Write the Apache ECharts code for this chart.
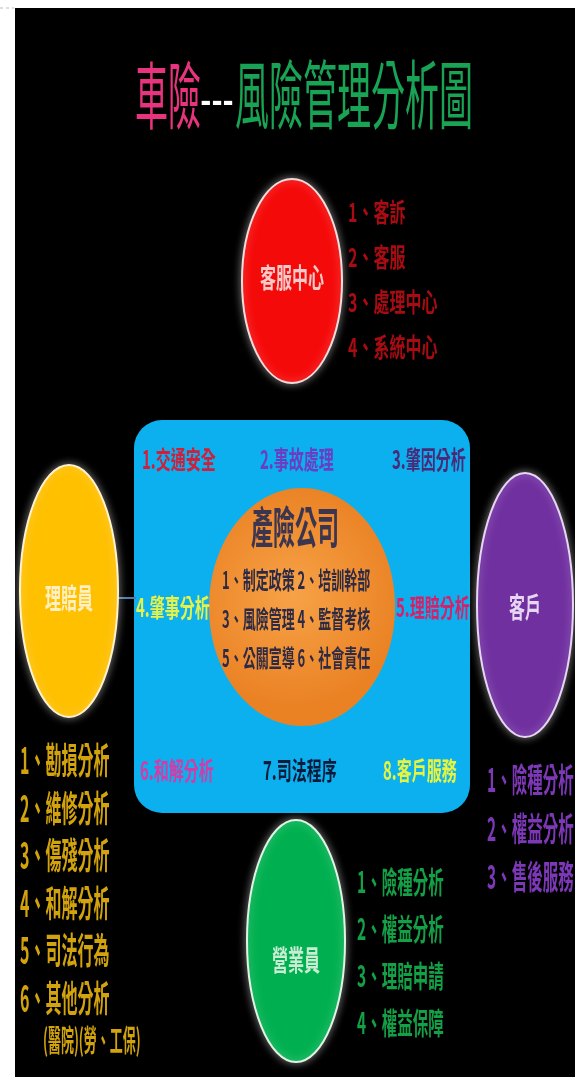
<!DOCTYPE html>
<html>
<head>
<meta charset="utf-8">
<script src="https://cdn.jsdelivr.net/npm/echarts@6/dist/echarts.min.js"></script>
<style>
html,body{margin:0;padding:0;background:#fff;}
#chart{width:575px;height:1077px;}
</style>
</head>
<body>
<div id="chart"></div>
<script>
// ---- content ----
const TITLE_A = '車險';
const TITLE_SEP = '---';
const TITLE_B = '風險管理分析圖';
const CENTER_TITLE = '產險公司';
const CENTER_ITEMS = ['1、制定政策 2、培訓幹部', '3、風險管理 4、監督考核', '5、公關宣導 6、社會責任'];
const RING_TOP = ['1.交通安全', '2.事故處理', '3.肇因分析'];
const RING_MID = ['4.肇事分析', '5.理賠分析'];
const RING_BOTTOM = ['6.和解分析', '7.司法程序', '8.客戶服務'];
const NODE_SERVICE = '客服中心';
const NODE_ADJUSTER = '理賠員';
const NODE_CUSTOMER = '客戶';
const NODE_SALES = '營業員';
const SERVICE_ITEMS = ['1、客訴', '2、客服', '3、處理中心', '4、系統中心'];
const ADJUSTER_ITEMS = ['1、勘損分析', '2、維修分析', '3、傷殘分析', '4、和解分析', '5、司法行為', '6、其他分析'];
const ADJUSTER_NOTE = '(醫院)(勞、工保)';
const CUSTOMER_ITEMS = ['1、險種分析', '2、權益分析', '3、售後服務'];
const SALES_ITEMS = ['1、險種分析', '2、權益分析', '3、理賠申請', '4、權益保障'];

// ---- helpers ----
const FONT = '"Noto Sans CJK TC", "Noto Sans CJK SC", sans-serif';
function T(x, y, text, size, color, sy, align, weight) {
  return {
    type: 'text', x: x, y: y, scaleY: sy, z: 20,
    style: {
      text: text,
      font: (weight || 'bold') + ' ' + size + 'px ' + FONT,
      fill: color,
      textAlign: align || 'left',
      textVerticalAlign: 'middle'
    }
  };
}
function E(cx, cy, rx, ry, fill, stroke) {
  return {
    type: 'ellipse', z: 5,
    shape: { cx: cx, cy: cy, rx: rx, ry: ry },
    style: {
      fill: fill, stroke: stroke || '#f3e6dc', lineWidth: 2,
      shadowBlur: 8, shadowColor: 'rgba(255,255,255,0.45)'
    }
  };
}
function list(items, x, y0, dy, size, color, sy) {
  return items.map((t, i) => T(x, y0 + i * dy, t, size, color, sy, 'left', 'bold'));
}

const els = [];
// background panel
els.push({ type: 'rect', z: 0, shape: { x: 15, y: 8, width: 560, height: 1069 }, style: { fill: '#000' } });
els.push({ type: 'line', z: 1, shape: { x1: 0, y1: 8, x2: 14, y2: 8 }, style: { stroke: '#bbb', lineWidth: 1, lineDash: [3, 3] } });

// title
els.push(T(135, 95, TITLE_A, 33, '#e8347e', 2.2, 'left', 'normal'));
els.push(T(217, 99, TITLE_SEP, 30, '#ffffff', 1.3, 'center', 'bold'));
els.push(T(235, 95, TITLE_B, 34, '#19a355', 2.2, 'left', 'normal'));

// blue rounded panel
els.push({ type: 'rect', z: 2, shape: { x: 134, y: 420, width: 336, height: 393, r: 28 },
  style: { fill: '#0cb0ee' } });
// connector
els.push({ type: 'line', z: 3, shape: { x1: 116, y1: 598, x2: 136, y2: 598 }, style: { stroke: '#4d7ea8', lineWidth: 2 } });

// ring labels
const ringTopColors = ['#cf1f3a', '#6b3cc4', '#4a2a78'];
const ringTopX = [142, 260, 392];
RING_TOP.forEach((t, i) => els.push(T(ringTopX[i], 459, t, 15, ringTopColors[i], 1.7)));
els.push(T(136, 607, RING_MID[0], 15, '#e4f24a', 1.7));
els.push(T(396, 607, RING_MID[1], 15, '#d6206a', 1.7));
const ringBotColors = ['#d63aa6', '#0d1b3a', '#e6f440'];
const ringBotX = [140, 263, 383];
RING_BOTTOM.forEach((t, i) => els.push(T(ringBotX[i], 770, t, 15, ringBotColors[i], 1.7)));

// center company
els.push({ type: 'ellipse', z: 4, shape: { cx: 302, cy: 607, rx: 93, ry: 119 },
  style: { fill: { type: 'radial', x: 0.45, y: 0.45, r: 0.6,
    colorStops: [{ offset: 0, color: '#f7a247' }, { offset: 1, color: '#ea8224' }] } } });
els.push(T(295, 527, CENTER_TITLE, 22, '#3b3550', 2.0, 'center', 'bold'));
CENTER_ITEMS.forEach((t, i) => els.push(T(222, 580 + i * 39, t, 13, '#2c2a44', 1.8, 'left', 'bold')));

// top node: service center
els.push(E(292, 281, 50, 102, '#f50a0a', '#f3dede'));
els.push(T(292, 278, NODE_SERVICE, 16, '#f6c9c9', 1.7, 'center'));
els.push(...list(SERVICE_ITEMS, 348, 212, 45, 16, '#a80c12', 1.6));

// left node: adjuster
els.push(E(69, 591, 49, 126, '#ffc000', '#fff2cf'));
els.push(T(69, 598, NODE_ADJUSTER, 16, '#fff0c4', 1.8, 'center'));
els.push(...list(ADJUSTER_ITEMS, 20, 760, 47.6, 16, '#d2a30c', 2.3));
els.push(T(43, 1040, ADJUSTER_NOTE, 13, '#d2a30c', 2.3, 'left', 'bold'));

// right node: customer
els.push(E(525, 605, 48, 132, '#7030a0', '#e8d4f4'));
els.push(T(525, 607, NODE_CUSTOMER, 16, '#e6d6f2', 1.8, 'center'));
els.push(...list(CUSTOMER_ITEMS, 487, 780, 48.5, 15.5, '#7d38b8', 2.1));

// bottom node: sales
els.push(E(296, 941, 49, 121, '#00b050', '#e0f4e4'));
els.push(T(296, 960, NODE_SALES, 16, '#c9ecd3', 1.8, 'center'));
els.push(...list(SALES_ITEMS, 357, 882, 47, 15.5, '#13a047', 1.9));

const chart = echarts.init(document.getElementById('chart'), null, { renderer: 'canvas' });
chart.setOption({
  backgroundColor: '#ffffff',
  animation: false,
  graphic: { elements: els }
});
</script>
</body>
</html>
